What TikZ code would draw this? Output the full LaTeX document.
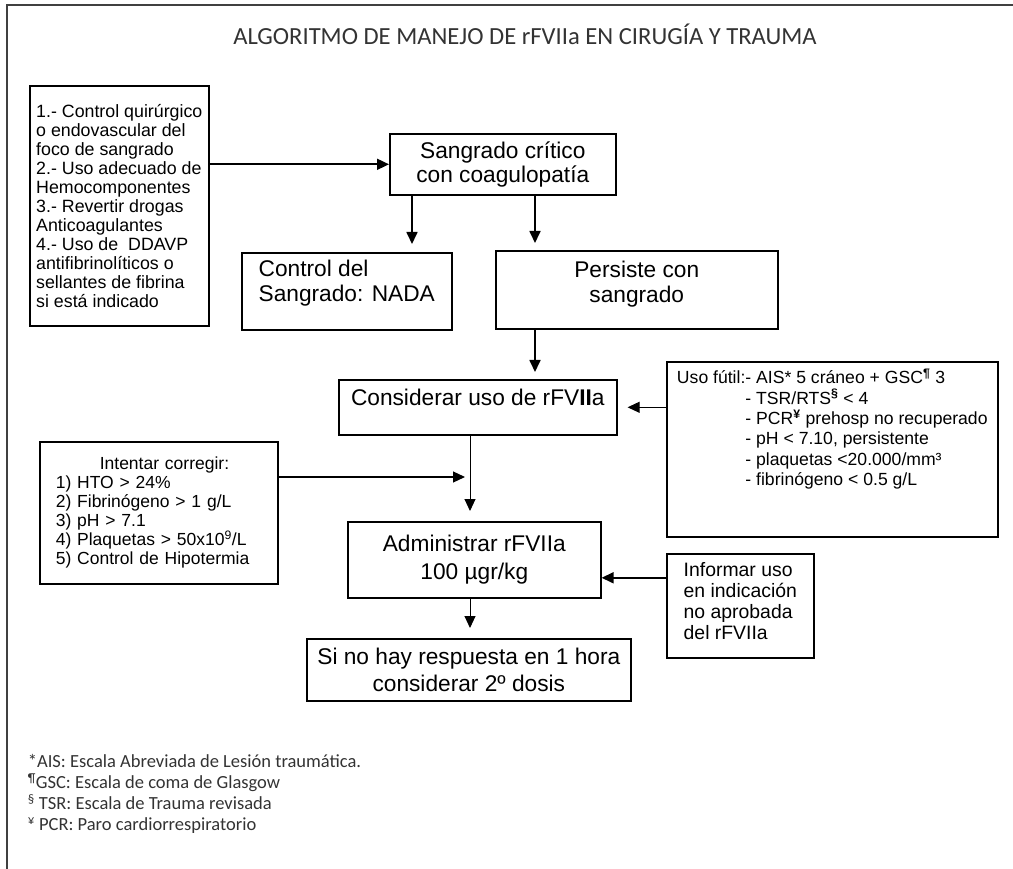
\documentclass[tikz,border=0pt]{standalone}
\usepackage{fontspec}
\setmainfont{Liberation Sans}
\newfontfamily\notefont{Carlito}
\usetikzlibrary{arrows.meta}
\newcommand{\lift}[1]{\rule[-#1]{0pt}{#1}}

\begin{document}
\begin{tikzpicture}[x=1pt,y=-1pt,->,>={Triangle[length=12pt,width=11pt]},line width=1.7pt]
	\tikzstyle{box} = [draw,rectangle,anchor=north west,inner sep=0pt,line width=1.6pt]
	\tikzset{txt/.style 2 args={font=\fontsize{#1}{#2}\selectfont}}
	\tikzstyle{thin arrow} = [line width=1pt]
	\useasboundingbox (0,0) rectangle (1013,869);
	
	\draw[-,line width=1.2pt,black!75] (1013,5) -- (7,5) -- (7,869);
	\node[anchor=base,text=black!80,font=\notefont\fontsize{24.6}{28}\selectfont] (titulo) at (525,45) {ALGORITMO DE MANEJO DE rFVIIa EN CIRUGÍA Y TRAUMA};
	
	\node[box,txt={17.8}{19},minimum width=179pt,minimum height=240pt,align=left] (lista) at (29,85) {1.- Control quirúrgico\\o endovascular del\\foco de sangrado\\2.- Uso adecuado de\\Hemocomponentes\\3.- Revertir drogas\\Anticoagulantes\\4.- Uso de\ \ DDAVP\\antifibrinolíticos o\\sellantes de fibrina\\si está indicado};
	\node[box,txt={22.7}{24},minimum width=226pt,minimum height=61pt,align=center] (sangrado) at (389,133) {Sangrado crítico\\con coagulopatía};
	\node[box,txt={22.7}{25},minimum width=210pt,minimum height=77pt,align=left] (control) at (241,252) {Control del\\Sangrado: NADA\lift{21pt}};
	\node[box,txt={22.7}{25},minimum width=282pt,minimum height=78pt,align=center] (persiste) at (495,250) {Persiste con\\sangrado\lift{16pt}};
	\node[box,txt={22.7}{25},minimum width=278pt,minimum height=55pt] (considerar) at (338,379) {Considerar uso de rFV\textbf{II}a\lift{20pt}};
	\node[box,txt={17.6}{20.3},minimum width=331pt,minimum height=175pt,align=left] (futil) at (666,361) {Uso fútil:- AIS* 5 cráneo + GSC\textsuperscript{\textbf{¶}} 3\\
		\phantom{Uso fútil:}- TSR/RTS\textsuperscript{\textbf{§}} < 4\\
		\phantom{Uso fútil:}- PCR\textsuperscript{\textbf{¥}} prehosp no recuperado\\
		\phantom{Uso fútil:}- pH < 7.10, persistente\\
		\phantom{Uso fútil:}- plaquetas <20.000/mm³\\
		\phantom{Uso fútil:}- fibrinógeno < 0.5 g/L\lift{44pt}};
	\node[box,txt={17.5}{19},minimum width=238pt,minimum height=142pt,text width=206pt,inner xsep=16pt,align=left] (intentar) at (39,441) {\hspace*{44pt}Intentar corregir:\\1) HTO > 24\%\\2) Fibrinógeno > 1 g/L\\3) pH > 7.1\\4) Plaquetas > 50x10\textsuperscript{9}/L\\5) Control de Hipotermia};
	\node[box,txt={22.7}{27.5},minimum width=253pt,minimum height=76pt,align=center] (administrar) at (347,521) {Administrar rFVIIa\\100 µgr/kg};
	\node[box,txt={19.4}{21},minimum width=147pt,minimum height=104pt,align=left] (informar) at (666,553) {Informar uso\\en indicación\\no aprobada\\del rFVIIa\lift{9pt}};
	\node[box,txt={22.7}{27},minimum width=324pt,minimum height=62pt,align=center] (dosis) at (306,638) {Si no hay respuesta en 1 hora\\considerar 2º dosis};
	
	\coordinate (mid) at (470,477);
	
	\path (lista.east |- sangrado.west) edge (sangrado.west);
	\path ([xshift=23pt]sangrado.south west) edge[shorten >=8pt] ([xshift=23pt]sangrado.south west |- control.north);
	\path ([xshift=40pt]persiste.north west |- sangrado.south) edge[shorten >=7pt] ([xshift=40pt]persiste.north west);
	\path ([xshift=40pt]persiste.south west) edge[shorten >=7pt] ([xshift=40pt]persiste.south west |- considerar.north);
	\path (futil.west |- considerar.east) edge[thin arrow,shorten >=10pt] (considerar.east);
	\path (considerar.south -| mid) edge[thin arrow,shorten >=10pt] (administrar.north -| mid);
	\path (intentar.east |- mid) edge[line width=1.2pt,shorten >=5pt] (mid);
	\path ([yshift=28pt]informar.west) edge ([yshift=28pt]informar.west -| administrar.east);
	\path (administrar.south -| mid) edge[thin arrow,shorten >=10pt] (dosis.north -| mid);
	
	\node[anchor=north west,inner sep=0pt,align=left,text=black!80,font=\notefont\fontsize{18.5}{21}\selectfont] (notas) at (27,753.5) {*AIS: Escala Abreviada de Lesión traumática.\\
		\textsuperscript{¶}GSC: Escala de coma de Glasgow\\
		\textsuperscript{§} TSR: Escala de Trauma revisada\\
		\textsuperscript{¥} PCR: Paro cardiorrespiratorio};
\end{tikzpicture}
\end{document}
